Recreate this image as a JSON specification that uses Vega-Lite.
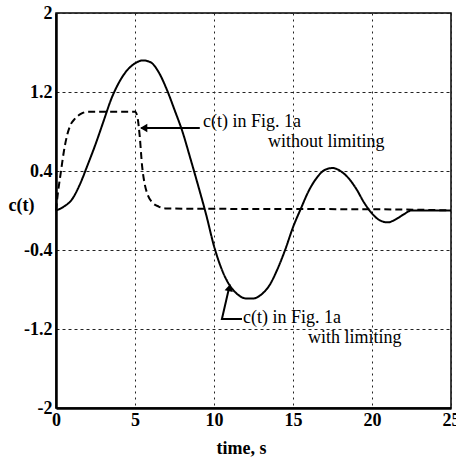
{
  "$schema": "https://vega.github.io/schema/vega-lite/v6.json",
  "width": 395,
  "height": 395,
  "autosize": {"type": "none"},
  "padding": {"left": 56, "top": 13, "right": 5, "bottom": 55},
  "background": "white",
  "config": {
    "view": {"stroke": "black", "strokeWidth": 1.5},
    "font": "Liberation Serif"
  },
  "datasets": {
    "curves": [
      {"t": 0, "c": 0.0, "s": "with limiting"},
      {"t": 0.5, "c": 0.04, "s": "with limiting"},
      {"t": 1.0, "c": 0.11, "s": "with limiting"},
      {"t": 1.5, "c": 0.26, "s": "with limiting"},
      {"t": 2.0, "c": 0.46, "s": "with limiting"},
      {"t": 2.5, "c": 0.67, "s": "with limiting"},
      {"t": 3.0, "c": 0.9, "s": "with limiting"},
      {"t": 3.5, "c": 1.13, "s": "with limiting"},
      {"t": 4.0, "c": 1.3, "s": "with limiting"},
      {"t": 4.5, "c": 1.42, "s": "with limiting"},
      {"t": 5.0, "c": 1.49, "s": "with limiting"},
      {"t": 5.5, "c": 1.52, "s": "with limiting"},
      {"t": 6.0, "c": 1.5, "s": "with limiting"},
      {"t": 6.5, "c": 1.4, "s": "with limiting"},
      {"t": 7.0, "c": 1.23, "s": "with limiting"},
      {"t": 7.5, "c": 1.02, "s": "with limiting"},
      {"t": 8.0, "c": 0.8, "s": "with limiting"},
      {"t": 8.5, "c": 0.53, "s": "with limiting"},
      {"t": 9.0, "c": 0.25, "s": "with limiting"},
      {"t": 9.5, "c": -0.04, "s": "with limiting"},
      {"t": 10.0, "c": -0.36, "s": "with limiting"},
      {"t": 10.5, "c": -0.6, "s": "with limiting"},
      {"t": 11.0, "c": -0.76, "s": "with limiting"},
      {"t": 11.5, "c": -0.85, "s": "with limiting"},
      {"t": 12.0, "c": -0.89, "s": "with limiting"},
      {"t": 12.5, "c": -0.89, "s": "with limiting"},
      {"t": 13.0, "c": -0.85, "s": "with limiting"},
      {"t": 13.5, "c": -0.76, "s": "with limiting"},
      {"t": 14.0, "c": -0.6, "s": "with limiting"},
      {"t": 14.5, "c": -0.4, "s": "with limiting"},
      {"t": 15.0, "c": -0.17, "s": "with limiting"},
      {"t": 15.5, "c": 0.02, "s": "with limiting"},
      {"t": 16.0, "c": 0.2, "s": "with limiting"},
      {"t": 16.5, "c": 0.33, "s": "with limiting"},
      {"t": 17.0, "c": 0.41, "s": "with limiting"},
      {"t": 17.5, "c": 0.43, "s": "with limiting"},
      {"t": 18.0, "c": 0.4, "s": "with limiting"},
      {"t": 18.5, "c": 0.33, "s": "with limiting"},
      {"t": 19.0, "c": 0.22, "s": "with limiting"},
      {"t": 19.5, "c": 0.08, "s": "with limiting"},
      {"t": 20.0, "c": -0.03, "s": "with limiting"},
      {"t": 20.5, "c": -0.1, "s": "with limiting"},
      {"t": 21.0, "c": -0.12, "s": "with limiting"},
      {"t": 21.5, "c": -0.09, "s": "with limiting"},
      {"t": 22.0, "c": -0.04, "s": "with limiting"},
      {"t": 22.5, "c": 0.0, "s": "with limiting"},
      {"t": 23.0, "c": 0.0, "s": "with limiting"},
      {"t": 25.0, "c": 0.0, "s": "with limiting"},
      {"t": 0, "c": 0.0, "s": "without limiting"},
      {"t": 0.1, "c": 0.15, "s": "without limiting"},
      {"t": 0.3, "c": 0.38, "s": "without limiting"},
      {"t": 0.5, "c": 0.6, "s": "without limiting"},
      {"t": 0.7, "c": 0.76, "s": "without limiting"},
      {"t": 0.9, "c": 0.86, "s": "without limiting"},
      {"t": 1.2, "c": 0.93, "s": "without limiting"},
      {"t": 1.6, "c": 0.98, "s": "without limiting"},
      {"t": 2.0, "c": 1.0, "s": "without limiting"},
      {"t": 5.0, "c": 1.0, "s": "without limiting"},
      {"t": 5.15, "c": 0.95, "s": "without limiting"},
      {"t": 5.3, "c": 0.75, "s": "without limiting"},
      {"t": 5.45, "c": 0.45, "s": "without limiting"},
      {"t": 5.6, "c": 0.28, "s": "without limiting"},
      {"t": 5.8, "c": 0.16, "s": "without limiting"},
      {"t": 6.1, "c": 0.08, "s": "without limiting"},
      {"t": 6.5, "c": 0.04, "s": "without limiting"},
      {"t": 7.0, "c": 0.02, "s": "without limiting"},
      {"t": 22.0, "c": 0.01, "s": "without limiting"},
      {"t": 25.0, "c": 0.0, "s": "without limiting"}
    ],
    "arrows": [
      {"t": 5.4, "c": 0.835, "a": "a1", "o": 0},
      {"t": 9.1, "c": 0.835, "a": "a1", "o": 1},
      {"t": 11.77, "c": -1.099, "a": "a2", "o": 0},
      {"t": 10.5, "c": -1.099, "a": "a2", "o": 1},
      {"t": 10.93, "c": -0.8, "a": "a2", "o": 2}
    ],
    "heads": [
      {"t": 5.55, "c": 0.835, "shape": "triangle-left", "ang": 0},
      {"t": 10.98, "c": -0.78, "shape": "triangle-up", "ang": 12}
    ],
    "labels": [
      {"t": 9.3, "c": 0.849, "txt": "c(t) in Fig. 1a"},
      {"t": 13.42, "c": 0.646, "txt": "without limiting"},
      {"t": 11.84, "c": -1.142, "txt": "c(t) in Fig. 1a"},
      {"t": 15.95, "c": -1.339, "txt": "with limiting"}
    ]
  },
  "layer": [
    {
      "data": {"name": "curves"},
      "mark": {"type": "line", "color": "black", "strokeWidth": 2, "interpolate": "monotone"},
      "encoding": {
        "x": {
          "field": "t", "type": "quantitative",
          "scale": {"domain": [0, 25], "nice": false, "zero": false},
          "axis": {
            "values": [0, 5, 10, 15, 20, 25],
            "title": "time, s",
            "titleFont": "Liberation Serif", "titleFontSize": 18, "titleFontWeight": "bold",
            "titleColor": "black",
            "titleX": 185, "titleY": 40, "titleBaseline": "middle",
            "labelFont": "Liberation Serif", "labelFontSize": 18, "labelFontWeight": "bold",
            "labelColor": "black", "labelPadding": 3, "labelFlush": false,
            "ticks": false,
            "domainColor": "black", "domainWidth": 2.5,
            "grid": true, "gridColor": "#222", "gridDash": [2, 4], "gridWidth": 1
          }
        },
        "y": {
          "field": "c", "type": "quantitative",
          "scale": {"domain": [-2, 2], "nice": false, "zero": false},
          "axis": {
            "values": [-2, -1.2, -0.4, 0.4, 1.2, 2],
            "labelExpr": "datum.value == 2 ? '2' : datum.value == -2 ? '-2' : (datum.value < 0 ? '-' : '') + format(abs(datum.value), '.1f')",
            "title": "c(t)",
            "titleAngle": 0, "titleAlign": "center", "titleBaseline": "middle",
            "titleX": -35, "titleY": 192,
            "titleFont": "Liberation Serif", "titleFontSize": 18, "titleFontWeight": "bold",
            "titleColor": "black",
            "labelFont": "Liberation Serif", "labelFontSize": 18, "labelFontWeight": "bold",
            "labelColor": "black", "labelPadding": 4, "labelFlush": false,
            "ticks": false,
            "domainColor": "black", "domainWidth": 2.5,
            "grid": true, "gridColor": "#222", "gridDash": [3, 3], "gridWidth": 1
          }
        },
        "strokeDash": {
          "field": "s", "type": "nominal",
          "scale": {"domain": ["with limiting", "without limiting"], "range": [[1, 0], [7, 4]]},
          "legend": null
        },
        "detail": {"field": "s"}
      }
    },
    {
      "data": {"name": "arrows"},
      "mark": {"type": "line", "color": "black", "strokeWidth": 2},
      "encoding": {
        "x": {"field": "t", "type": "quantitative"},
        "y": {"field": "c", "type": "quantitative"},
        "detail": {"field": "a"},
        "order": {"field": "o"}
      }
    },
    {
      "data": {"name": "heads"},
      "mark": {"type": "point", "filled": true, "color": "black", "size": 70, "opacity": 1},
      "encoding": {
        "x": {"field": "t", "type": "quantitative"},
        "y": {"field": "c", "type": "quantitative"},
        "shape": {"field": "shape", "type": "nominal", "scale": null},
        "angle": {"field": "ang", "type": "quantitative", "scale": null}
      }
    },
    {
      "data": {"name": "labels"},
      "mark": {"type": "text", "align": "left", "baseline": "alphabetic", "font": "Liberation Serif", "fontSize": 18, "color": "black"},
      "encoding": {
        "x": {"field": "t", "type": "quantitative"},
        "y": {"field": "c", "type": "quantitative"},
        "text": {"field": "txt"}
      }
    }
  ]
}
